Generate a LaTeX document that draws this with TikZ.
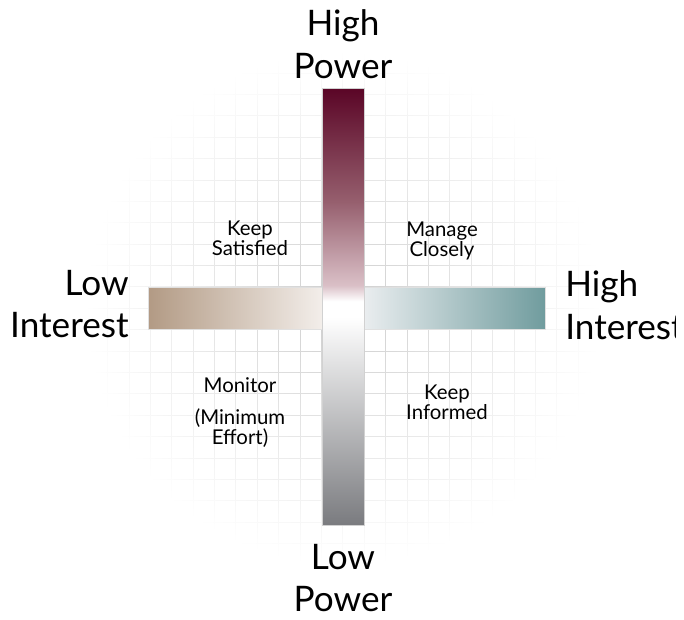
\documentclass[tikz,border=0pt]{standalone}
\usepackage{fontspec}
\setmainfont{Lato}
\usetikzlibrary{fadings}
\definecolor{powtop}{RGB}{90,5,38}
\definecolor{powmid}{RGB}{150,95,110}
\definecolor{powpale}{RGB}{218,192,199}
\definecolor{powbot}{RGB}{122,123,127}
\definecolor{inttan}{RGB}{178,154,132}
\definecolor{intwarm}{RGB}{242,237,233}
\definecolor{intcool}{RGB}{232,236,238}
\definecolor{intteal}{RGB}{112,156,158}
\pgfdeclareverticalshading{powshade}{100bp}{color(0bp)=(powbot); color(25bp)=(powbot); color(48.8bp)=(white); color(50.6bp)=(white); color(52.4bp)=(powpale); color(62bp)=(powmid); color(75bp)=(powtop); color(100bp)=(powtop)}
\pgfdeclarehorizontalshading{intshade}{100bp}{color(0bp)=(inttan); color(25bp)=(inttan); color(46.7bp)=(intwarm); color(49bp)=(white); color(50bp)=(white); color(52.5bp)=(intcool); color(75bp)=(intteal); color(100bp)=(intteal)}
\tikzfading[name=gridfade, inner color=transparent!0, outer color=transparent!100]
\tikzstyle{gridln}=[draw=black!20, line width=0.5pt]
\tikzstyle{axislbl}=[inner sep=0, align=center, font=\fontsize{25}{30.5}\selectfont]
\tikzstyle{quadlbl}=[inner sep=0, align=center, font=\fontsize{14.5}{14.5}\selectfont]

\begin{document}
\begin{tikzpicture}[x=0.025cm, y=-0.025cm]
\useasboundingbox (0,0) rectangle (684,619);
\draw[gridln, path fading=gridfade] foreach \i in {-12,...,12} {(343+\i*21.4,51)--(343+\i*21.4,565) (86,308+\i*21.4)--(600,308+\i*21.4)};
\shade[shading=intshade, draw=black!12, line width=0.3pt] (148,287) rectangle (545,329);
\shade[shading=powshade, draw=black!18, line width=0.3pt] (322,88) rectangle (364,525);
\node at (343,44)[axislbl](hp){High\\Power};
\node at (343,578)[axislbl](lp){Low\\Power};
\node at (129,304)[axislbl, anchor=east, align=right](li){Low\\Interest};
\begin{scope}
\clip (550,250) rectangle (675,360);
\node at (565,305)[axislbl, anchor=west, align=left](hi){High\\Interest};
\end{scope}
\node at (250,238)[quadlbl](ks){Keep\\Satisfied};
\node at (442,241)[quadlbl](mc){Manage\\Closely};
\node at (240,413)[quadlbl](mo){Monitor\\[8pt](Minimum\\Effort)};
\node at (447,402)[quadlbl](ki){Keep\\Informed};
\end{tikzpicture}
\end{document}
